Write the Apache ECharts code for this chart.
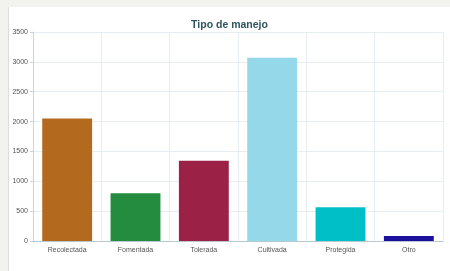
<!DOCTYPE html>
<html>
<head>
<meta charset="utf-8">
<script src="https://cdn.jsdelivr.net/npm/echarts@6/dist/echarts.min.js"></script>
<style>
  html, body { margin: 0; padding: 0; background: #f2f2ee; }
  #main { position: absolute; left: 8px; top: 7px; width: 442px; height: 264px;
          background: #fff; border-left: 1px solid #dcdcd8; box-sizing: border-box; }
</style>
</head>
<body>
<div id="main"></div>
<script>
// datos
const categorias = ['Recolectada', 'Fomentada', 'Tolerada', 'Cultivada', 'Protegida', 'Otro'];
const valores = [2050, 800, 1345, 3070, 565, 85];
const colores = ['#b36a1f', '#238c3f', '#9b2147', '#95d8ea', '#00bfc6', '#1b0f9c'];

const chart = echarts.init(document.getElementById('main'));

const option = {
  animation: false,
  title: {
    text: 'Tipo de manejo',
    left: 'center',
    top: 8,
    textStyle: { fontSize: 10.5, fontWeight: 'bold', color: '#2e5560', fontFamily: 'Liberation Sans' }
  },
  grid: { left: 24, right: 7, top: 25, bottom: 30, containLabel: false },
  xAxis: {
    type: 'category',
    data: categorias,
    axisLine: { lineStyle: { color: '#b7c9d0' } },
    axisTick: { show: false },
    splitLine: { show: true, lineStyle: { color: '#e6eef1' } },
    axisLabel: { fontSize: 7, color: '#555', margin: 6, interval: 0 }
  },
  yAxis: {
    type: 'value',
    min: 0,
    max: 3500,
    interval: 500,
    axisLine: { show: true, lineStyle: { color: '#c4d6dc' } },
    axisTick: { show: true, length: 3, lineStyle: { color: '#c4d6dc' } },
    splitLine: { lineStyle: { color: '#e6eef1' } },
    axisLabel: { fontSize: 7, color: '#555', margin: 5, formatter: v => String(v) }
  },
  series: [{
    type: 'bar',
    barWidth: '73%',
    data: valores.map((v, i) => ({ value: v, itemStyle: { color: colores[i] } }))
  }]
};
chart.setOption(option);
</script>
</body>
</html>
